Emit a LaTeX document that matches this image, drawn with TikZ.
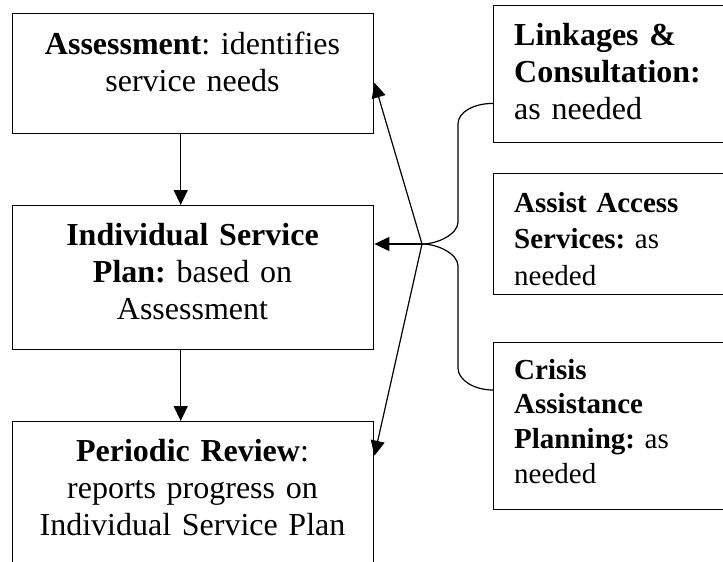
\documentclass[tikz,border=0pt]{standalone}
\usepackage{fontspec}
\setmainfont{Liberation Serif}
\usetikzlibrary{arrows.meta}
\frenchspacing
\begin{document}
\begin{tikzpicture}[x=1pt,y=-1pt,
  box/.style={draw, line width=1.4pt, rectangle, inner sep=0pt, anchor=north west},
  ctext/.style={anchor=base, inner sep=0pt, text width=350pt, align=center, font=\frenchspacing\fontsize{32}{37}\selectfont},
  ltext/.style={anchor=base west, inner sep=0pt, text width=210pt, align=left, font=\frenchspacing\fontsize{32}{37}\selectfont},
  atext/.style={ltext, font=\frenchspacing\fontsize{29}{36.5}\selectfont},
  ktext/.style={ltext, font=\frenchspacing\fontsize{29}{34.7}\selectfont},
  conn/.style={line width=1.2pt},
  arr/.style={conn, -{Triangle[length=15pt,width=14pt]}}]
\useasboundingbox (0,0) rectangle (723,562);
\clip (0,0) rectangle (723,562);
% left column boxes
\node[box, minimum width=361pt, minimum height=120pt] (A) at (12,13) {};
\node[box, minimum width=361pt, minimum height=144pt] (B) at (12,205) {};
\node[box, minimum width=361pt, minimum height=160pt] (C) at (12,421) {};
% right column boxes
\node[box, minimum width=260pt, minimum height=137pt] (L) at (493,5) {};
\node[box, minimum width=260pt, minimum height=121pt] (S) at (493,173) {};
\node[box, minimum width=260pt, minimum height=167pt] (K) at (493,342) {};
% texts
\node[ctext] (At) at (192.5,54) {\textbf{Assessment}: identifies\\service needs};
\node[ctext] (Bt) at (192.5,245) {\textbf{Individual Service}\\\textbf{Plan:} based on\\Assessment};
\node[ctext] (Ct) at (192.5,461) {\textbf{Periodic Review}:\\reports progress on\\Individual Service Plan};
\node[ltext] (Lt) at (514,45) {\textbf{Linkages \&}\\\textbf{Consultation:}\\as needed};
\node[atext] (St) at (514,212) {\textbf{Assist Access}\\\textbf{Services:} as\\needed};
\node[ktext] (Kt) at (514,379) {\textbf{Crisis}\\\textbf{Assistance}\\\textbf{Planning:} as\\needed};
% down arrows
\draw[arr] ([xshift=-12.5pt]A.south) -- ([xshift=-12.5pt]B.north);
\draw[arr] ([xshift=-12.5pt]B.south) -- ([xshift=-12.5pt]C.north);
% brace
\coordinate (P) at (422,244);
\draw[conn] ([yshift=40pt]L.south west) .. controls +(-19,0) and +(0,-12) .. (458,124)
  -- (458,222) .. controls +(0,12) and +(16,0) .. (P);
\draw[conn] (P) .. controls +(16,0) and +(0,-12) .. (458,266)
  -- (458,368) .. controls +(0,12) and +(-19,0) .. ([yshift=-48pt]K.north west);
% fan arrows
\draw[arr] (P) -- ([yshift=-9pt]A.east);
\draw[arr] (P) -- (B.east |- P);
\draw[arr] (P) -- ([yshift=46pt]C.east);
\end{tikzpicture}
\end{document}
